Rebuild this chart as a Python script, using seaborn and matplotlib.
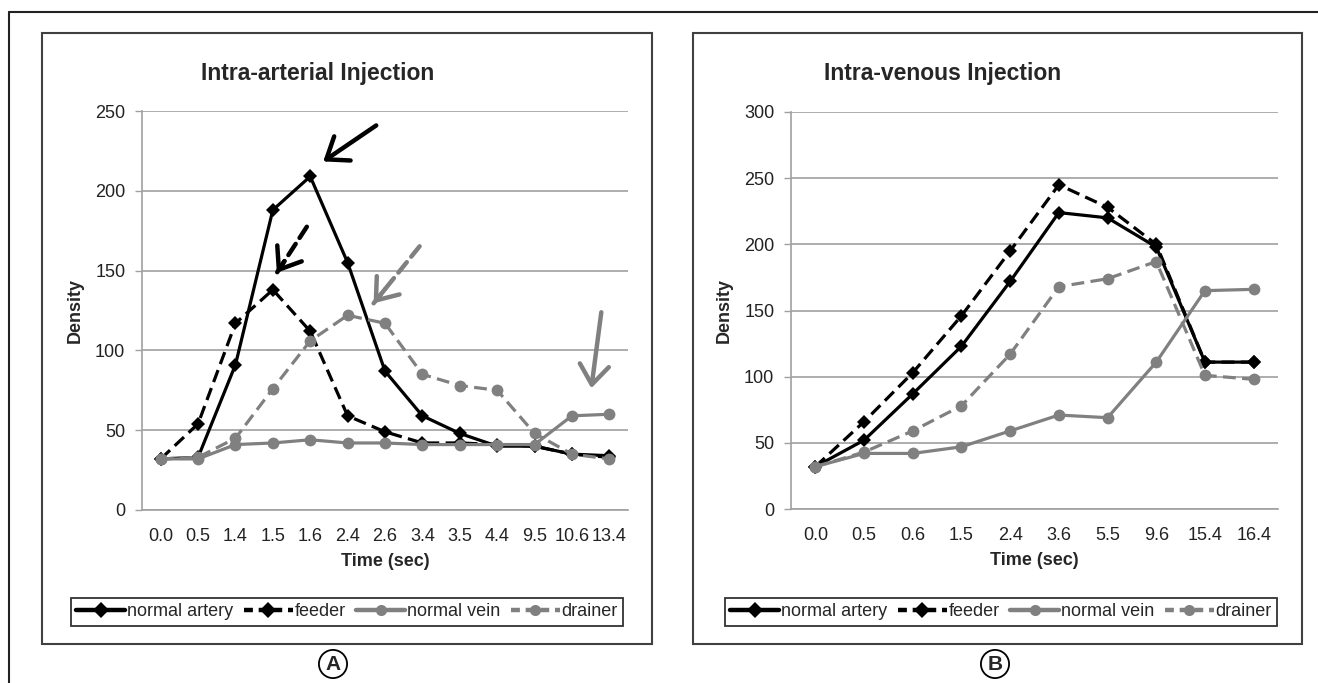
import matplotlib
matplotlib.use("Agg")
import matplotlib.pyplot as plt
import matplotlib.transforms as mtransforms
from matplotlib.lines import Line2D
from matplotlib.patches import Rectangle
import pandas as pd
import seaborn as sns

# Panel A - intra-arterial injection
times_a = ["0.0", "0.5", "1.4", "1.5", "1.6", "2.4", "2.6", "3.4", "3.5", "4.4", "9.5", "10.6", "13.4"]
artery_a = [32, 33, 91, 188, 209, 155, 87, 59, 48, 40, 40, 35, 34]
feeder_a = [32, 54, 117, 138, 112, 59, 49, 42, 42, 41, 40, 35, 33]
vein_a = [32, 32, 41, 42, 44, 42, 42, 41, 41, 41, 41, 59, 60]
drainer_a = [32, 33, 45, 76, 106, 122, 117, 85, 78, 75, 48, 35, 32]

# Panel B - intra-venous injection
times_b = ["0.0", "0.5", "0.6", "1.5", "2.4", "3.6", "5.5", "9.6", "15.4", "16.4"]
artery_b = [32, 52, 87, 123, 172, 224, 220, 198, 111, 111]
feeder_b = [32, 66, 103, 146, 195, 245, 228, 200, 111, 111]
vein_b = [32, 42, 42, 47, 59, 71, 69, 111, 165, 166]
drainer_b = [32, 43, 59, 78, 117, 168, 174, 187, 101, 98]

series = ["normal artery", "feeder", "normal vein", "drainer"]
colors = {"normal artery": "black", "feeder": "black", "normal vein": "#808080", "drainer": "#808080"}
dashes = {"normal artery": "", "feeder": (4, 2), "normal vein": "", "drainer": (4, 2)}
markers = {"normal artery": "D", "feeder": "D", "normal vein": "o", "drainer": "o"}

GRID = "#a0a0a0"
W, H = 1318, 683

sns.set_style("white")
plt.rcParams["font.family"] = ["Liberation Sans", "DejaVu Sans"]


def to_long(values):
    rows = []
    for name, vals in zip(series, values):
        for i, v in enumerate(vals):
            rows.append({"pos": i, "density": v, "series": name})
    return pd.DataFrame(rows)


def draw_panel(ax, times, df, ymax):
    sns.lineplot(data=df, x="pos", y="density", hue="series", style="series",
                 hue_order=series, style_order=series, palette=colors,
                 dashes=dashes, markers=markers, lw=2.3, markersize=7.5,
                 markeredgewidth=0, sort=False, legend=False, ax=ax)
    for ln in ax.get_lines():
        if ln.get_marker() == "o":
            ln.set_markersize(8.5)

    ax.set_xlim(-0.5, len(times) - 0.5)
    ax.set_ylim(0, ymax)
    ax.set_yticks(range(0, ymax + 1, 50))
    ax.set_xticks(range(len(times)))
    ax.set_xticklabels(times)
    ax.set_xticks([i - 0.5 for i in range(len(times) + 1)], minor=True)
    ax.tick_params(axis="x", which="major", length=0, pad=13, labelsize=13, labelcolor="#222222")
    ax.tick_params(axis="x", which="minor", length=5, width=1, color=GRID, direction="out")
    ax.tick_params(axis="y", length=5, width=1, color=GRID, direction="out", pad=7,
                   labelsize=13, labelcolor="#222222", left=True)
    ax.grid(axis="y", color=GRID, lw=1.2)
    ax.grid(axis="x", visible=False)
    ax.set_axisbelow(True)
    for s in ["top", "right"]:
        ax.spines[s].set_visible(False)
    for s in ["left", "bottom"]:
        ax.spines[s].set_color(GRID)
        ax.spines[s].set_linewidth(1.2)
    ax.set_xlabel("Time (sec)", fontweight="bold", fontsize=13, labelpad=6)
    ax.set_ylabel("Density", fontweight="bold", fontsize=13)
    ax.yaxis.set_label_coords(-0.12, 0.5)


fig = plt.figure(figsize=(W / 100, H / 100), dpi=100)
ax_a = fig.add_axes([142 / W, 1 - 510 / H, 486 / W, 399 / H])
ax_b = fig.add_axes([791 / W, 1 - 509 / H, 487 / W, 397 / H])

draw_panel(ax_a, times_a, to_long([artery_a, feeder_a, vein_a, drainer_a]), 250)
draw_panel(ax_b, times_b, to_long([artery_b, feeder_b, vein_b, drainer_b]), 300)


def arrow(ax, i, v, head, tail, color, dashed):
    # head / tail given as pixel offsets from the data point (x right, y down)
    tr = mtransforms.offset_copy(ax.transData, fig=fig, x=head[0], y=-head[1], units="dots")
    dx, dy = tail[0] - head[0], -(tail[1] - head[1])
    style = "->,head_length=1.0,head_width=0.75"
    if dashed:
        ax.annotate("", xy=(i, v), xycoords=tr, xytext=(dx, dy), textcoords="offset pixels",
                    arrowprops=dict(arrowstyle="-", color=color, lw=3.2, linestyle=(0, (3, 1.6)),
                                    shrinkA=0, shrinkB=0))
        ax.annotate("", xy=(i, v), xycoords=tr, xytext=(dx * 0.25, dy * 0.25),
                    textcoords="offset pixels",
                    arrowprops=dict(arrowstyle=style, color=color, lw=3.2, shrinkA=0, shrinkB=0,
                                    mutation_scale=14))
    else:
        ax.annotate("", xy=(i, v), xycoords=tr, xytext=(dx, dy), textcoords="offset pixels",
                    arrowprops=dict(arrowstyle=style, color=color, lw=3.2, shrinkA=0, shrinkB=0,
                                    mutation_scale=14))


arrow(ax_a, 4, artery_a[4], (13, -15), (66, -51), "black", False)
arrow(ax_a, 3, feeder_a[3], (4, -17), (34, -63), "black", True)
arrow(ax_a, 5, drainer_a[5], (26, -12), (72, -69), "#808080", True)
arrow(ax_a, 12, vein_a[12], (-18, -26), (-8, -102), "#808080", False)

# legends below each chart
handles = [Line2D([], [], color=colors[s], lw=3.2,
                  linestyle="-" if dashes[s] == "" else (0, (2, 1.3)),
                  marker=markers[s], markersize=8, markeredgewidth=0) for s in series]
for ax, cx in [(ax_a, 347), (ax_b, 1001)]:
    leg = ax.legend(handles, series, loc="center", bbox_to_anchor=(cx / W, 1 - 612 / H),
                    bbox_transform=fig.transFigure, ncol=4, frameon=True, fancybox=False,
                    edgecolor="black", fontsize=13, handlelength=2.7, handletextpad=0.1,
                    columnspacing=0.6, borderpad=0.3, borderaxespad=0)
    leg.get_frame().set_linewidth(1.3)

# titles
fig.text(318 / W, 1 - 80 / H, "Intra-arterial Injection", ha="center", va="baseline",
         fontsize=16.5, fontweight="bold")
fig.text(943 / W, 1 - 80 / H, "Intra-venous Injection", ha="center", va="baseline",
         fontsize=16.5, fontweight="bold")

# panel frames and outer border
for x0, x1 in [(42, 652), (693, 1302)]:
    fig.add_artist(Rectangle((x0 / W, 1 - 644 / H), (x1 - x0) / W, (644 - 33) / H,
                             transform=fig.transFigure, fill=False, ec="#404040", lw=1.5))
fig.add_artist(Line2D([9 / W, 1], [1 - 12 / H, 1 - 12 / H], transform=fig.transFigure,
                      color="#222222", lw=1.5))
fig.add_artist(Line2D([9 / W, 9 / W], [0, 1 - 12 / H], transform=fig.transFigure,
                      color="#222222", lw=1.5))

for x, letter in [(333, "A"), (995, "B")]:
    fig.text(x / W, 1 - 664 / H, letter, ha="center", va="center", fontsize=15,
             fontweight="bold",
             bbox=dict(boxstyle="circle,pad=0.22", fc="white", ec="black", lw=1.3))

fig.savefig("out.png", dpi=100)
